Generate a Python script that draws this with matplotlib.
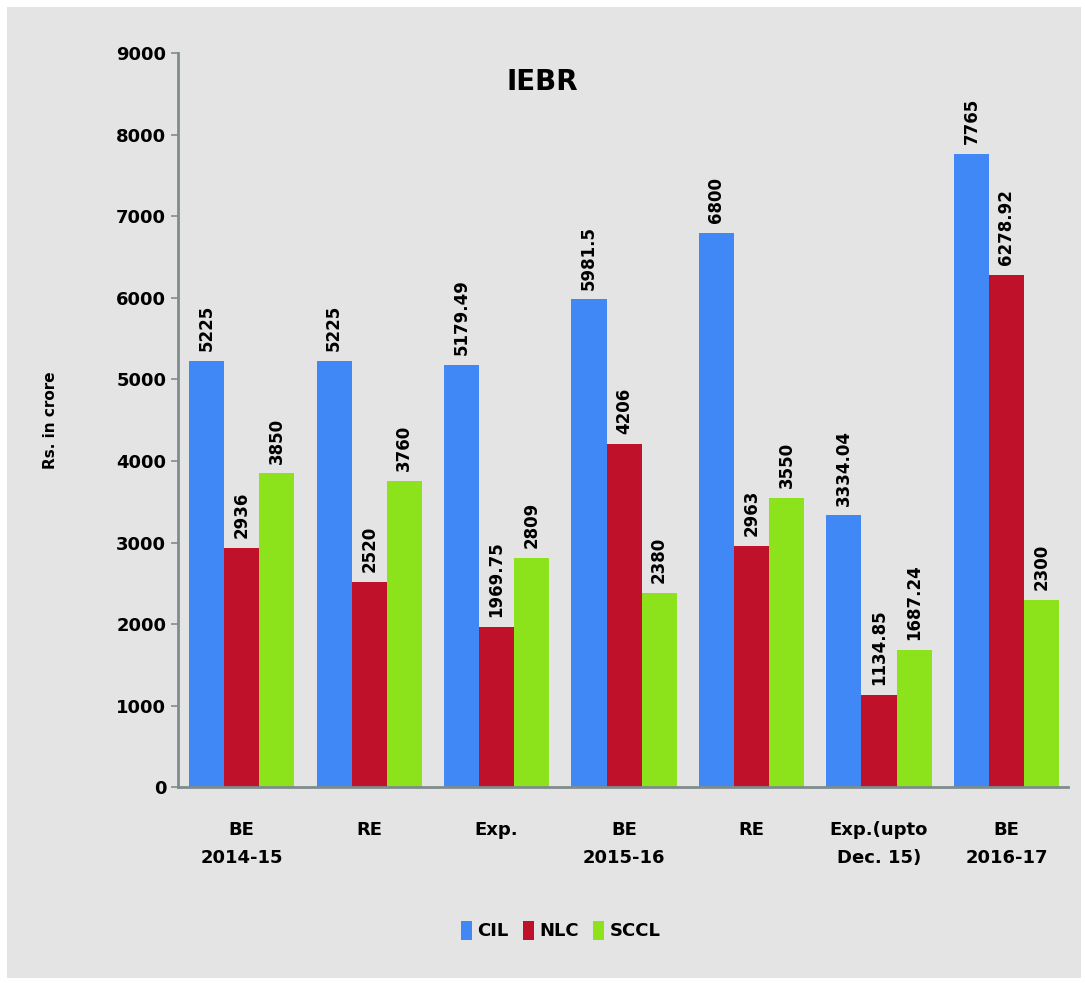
import matplotlib.pyplot as plt
import numpy as np
from matplotlib.patches import Rectangle

categories = ["BE\n2014-15", "RE", "Exp.", "BE\n2015-16", "RE", "Exp.(upto\nDec. 15)", "BE\n2016-17"]
cil = [5225, 5225, 5179.49, 5981.5, 6800, 3334.04, 7765]
nlc = [2936, 2520, 1969.75, 4206, 2963, 1134.85, 6278.92]
sccl = [3850, 3760, 2809, 2380, 3550, 1687.24, 2300]
cil_labels = ["5225", "5225", "5179.49", "5981.5", "6800", "3334.04", "7765"]
nlc_labels = ["2936", "2520", "1969.75", "4206", "2963", "1134.85", "6278.92"]
sccl_labels = ["3850", "3760", "2809", "2380", "3550", "1687.24", "2300"]

plt.rcParams['font.family'] = ['Liberation Sans Narrow', 'DejaVu Sans']
plt.rcParams['font.weight'] = 'bold'

bg = '#e4e4e4'
fig = plt.figure(figsize=(10.85, 9.83), dpi=100, facecolor='white')
fig.patches.append(Rectangle((0.006, 0.005), 0.99, 0.988, transform=fig.transFigure,
                             facecolor=bg, edgecolor='none', zorder=-1))
ax = fig.add_axes([0.164, 0.199, 0.82, 0.747])
ax.set_facecolor(bg)

x = np.arange(len(categories))
w = 0.275
series = [(cil, cil_labels, '#3f88f5', 'CIL'),
          (nlc, nlc_labels, '#c0112a', 'NLC'),
          (sccl, sccl_labels, '#8ce31b', 'SCCL')]
for i, (vals, labs, col, name) in enumerate(series):
    pos = x + (i - 1) * w
    ax.bar(pos, vals, width=w, color=col, label=name)
    for p, v, t in zip(pos, vals, labs):
        ax.annotate(t, (p, v), xytext=(0, 7), textcoords='offset points',
                    rotation=90, ha='center', va='bottom', fontsize=12, fontweight='bold')

ax.set_xlim(-0.5, 6.48)
ax.set_ylim(0, 9000)
ax.set_yticks(range(0, 9001, 1000))
ax.tick_params(axis='y', labelsize=13, color='#7f8c8c', length=5, width=1.2)
ax.tick_params(axis='x', length=0, labelsize=13, pad=24)
ax.set_xticks(x)
ax.set_xticklabels(categories, linespacing=1.7)
for s in ['top', 'right']:
    ax.spines[s].set_visible(False)
for s in ['left', 'bottom']:
    ax.spines[s].set_color('#7f8c8c')
    ax.spines[s].set_linewidth(2)

ax.set_ylabel("Rs. in crore", fontsize=11, fontweight='bold', labelpad=42)
ax.text(0.41, 0.96, "IEBR", transform=ax.transAxes, ha='center', va='center',
        fontsize=20, fontweight='bold')

ax.legend(loc='upper center', bbox_to_anchor=(0.43, -0.16), ncol=3, frameon=False,
          fontsize=13, handlelength=0.6, handleheight=1.2, handletextpad=0.3,
          columnspacing=0.8)

fig.savefig('out.png', dpi=100, facecolor='white')
